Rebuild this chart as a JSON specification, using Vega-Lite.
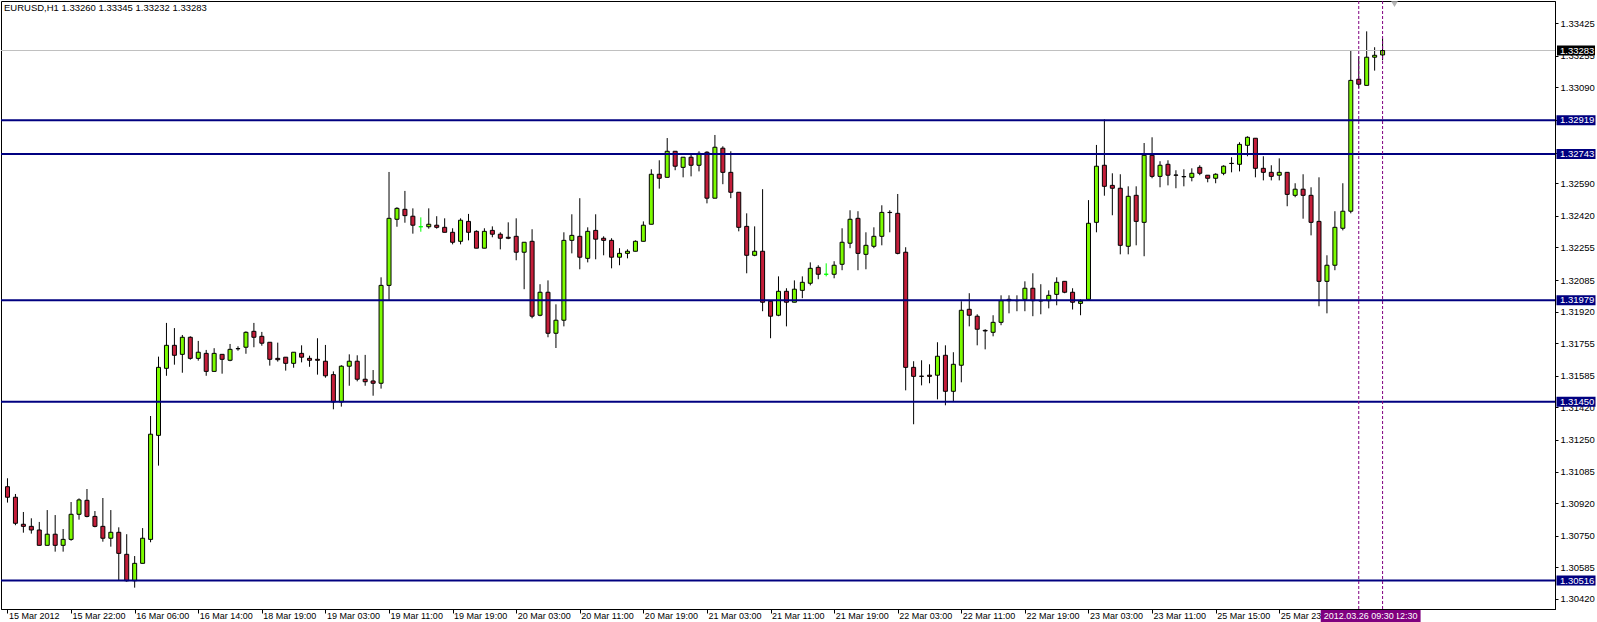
{
  "$schema": "https://vega.github.io/schema/vega-lite/v6.json",
  "width": 1554,
  "height": 608,
  "autosize": {"type": "none"},
  "padding": {"left": 1, "top": 1, "right": 42, "bottom": 13},
  "background": "white",
  "title": {"text": "EURUSD,H1  1.33260 1.33345 1.33232 1.33283", "anchor": "start", "frame": "group", "orient": "top", "offset": -12, "dx": 3, "font": "Liberation Sans", "fontSize": 9.5, "fontWeight": "normal", "color": "black"},
  "config": {
    "view": {"stroke": "black", "strokeWidth": 1},
    "axis": {"labelFont": "Liberation Sans", "labelColor": "black", "domainColor": "black", "tickColor": "black", "grid": false, "domainWidth": 1, "tickWidth": 1}
  },
  "resolve": {"axis": {"x": "independent", "y": "independent"}},
  "datasets": {
    "candles": [
      {"i":0,"o":1.31006,"h":1.3105,"l":1.30923,"c":1.30951},
      {"i":1,"o":1.30951,"h":1.30968,"l":1.30805,"c":1.30815},
      {"i":2,"o":1.3081,"h":1.30874,"l":1.30766,"c":1.30799},
      {"i":3,"o":1.30799,"h":1.30841,"l":1.30761,"c":1.3078},
      {"i":4,"o":1.3078,"h":1.30822,"l":1.307,"c":1.307},
      {"i":5,"o":1.307,"h":1.30884,"l":1.307,"c":1.30758},
      {"i":6,"o":1.30758,"h":1.30858,"l":1.30667,"c":1.307},
      {"i":7,"o":1.307,"h":1.30785,"l":1.30667,"c":1.30731},
      {"i":8,"o":1.30731,"h":1.30926,"l":1.30724,"c":1.30862},
      {"i":9,"o":1.30862,"h":1.30945,"l":1.30834,"c":1.30937},
      {"i":10,"o":1.30935,"h":1.30994,"l":1.30846,"c":1.30851},
      {"i":11,"o":1.30851,"h":1.30879,"l":1.30794,"c":1.30799},
      {"i":12,"o":1.30799,"h":1.30947,"l":1.30719,"c":1.30737},
      {"i":13,"o":1.30737,"h":1.30884,"l":1.30693,"c":1.30768},
      {"i":14,"o":1.30768,"h":1.30794,"l":1.30515,"c":1.30658},
      {"i":15,"o":1.30653,"h":1.30758,"l":1.3051,"c":1.30515},
      {"i":16,"o":1.30515,"h":1.30644,"l":1.30479,"c":1.30606},
      {"i":17,"o":1.30606,"h":1.3079,"l":1.30606,"c":1.30737},
      {"i":18,"o":1.30731,"h":1.31375,"l":1.30716,"c":1.3128},
      {"i":19,"o":1.31274,"h":1.31685,"l":1.31116,"c":1.31629},
      {"i":20,"o":1.31624,"h":1.31861,"l":1.31585,"c":1.31744},
      {"i":21,"o":1.31744,"h":1.31834,"l":1.31643,"c":1.31692},
      {"i":22,"o":1.31697,"h":1.31798,"l":1.31601,"c":1.31786},
      {"i":23,"o":1.31786,"h":1.31791,"l":1.31669,"c":1.31676},
      {"i":24,"o":1.31676,"h":1.31767,"l":1.31664,"c":1.31708},
      {"i":25,"o":1.31702,"h":1.3172,"l":1.31585,"c":1.31608},
      {"i":26,"o":1.31608,"h":1.31729,"l":1.31608,"c":1.31702},
      {"i":27,"o":1.31697,"h":1.31697,"l":1.31596,"c":1.31671},
      {"i":28,"o":1.31666,"h":1.31751,"l":1.31661,"c":1.31723},
      {"i":29,"o":1.31726,"h":1.31739,"l":1.31716,"c":1.31727},
      {"i":30,"o":1.31734,"h":1.31817,"l":1.317,"c":1.31812},
      {"i":31,"o":1.31817,"h":1.31861,"l":1.31734,"c":1.31786},
      {"i":32,"o":1.31791,"h":1.31814,"l":1.31742,"c":1.31755},
      {"i":33,"o":1.3176,"h":1.3176,"l":1.31638,"c":1.31671},
      {"i":34,"o":1.31676,"h":1.31758,"l":1.31659,"c":1.31669},
      {"i":35,"o":1.31682,"h":1.31682,"l":1.31612,"c":1.3165},
      {"i":36,"o":1.3165,"h":1.31708,"l":1.31627,"c":1.31708},
      {"i":37,"o":1.31702,"h":1.31744,"l":1.31655,"c":1.31682},
      {"i":38,"o":1.31676,"h":1.3169,"l":1.31632,"c":1.31666},
      {"i":39,"o":1.31671,"h":1.31781,"l":1.31591,"c":1.31666},
      {"i":40,"o":1.31661,"h":1.31746,"l":1.31575,"c":1.31585},
      {"i":41,"o":1.31591,"h":1.31608,"l":1.3141,"c":1.31448},
      {"i":42,"o":1.31448,"h":1.3164,"l":1.31424,"c":1.31635},
      {"i":43,"o":1.31635,"h":1.31697,"l":1.31533,"c":1.31661},
      {"i":44,"o":1.31661,"h":1.31692,"l":1.31556,"c":1.31567},
      {"i":45,"o":1.31567,"h":1.31694,"l":1.31533,"c":1.31554},
      {"i":46,"o":1.31558,"h":1.31615,"l":1.31481,"c":1.31546},
      {"i":47,"o":1.31546,"h":1.32099,"l":1.31518,"c":1.32057},
      {"i":48,"o":1.32057,"h":1.32649,"l":1.31981,"c":1.32407},
      {"i":49,"o":1.32402,"h":1.32465,"l":1.32363,"c":1.32459},
      {"i":50,"o":1.32454,"h":1.3255,"l":1.32384,"c":1.32421},
      {"i":51,"o":1.32418,"h":1.32459,"l":1.32327,"c":1.32371},
      {"i":52,"o":1.32363,"h":1.32412,"l":1.32337,"c":1.32363},
      {"i":53,"o":1.32363,"h":1.32459,"l":1.32353,"c":1.32376},
      {"i":54,"o":1.32371,"h":1.32418,"l":1.32353,"c":1.3236},
      {"i":55,"o":1.3236,"h":1.32407,"l":1.32334,"c":1.32334},
      {"i":56,"o":1.32334,"h":1.32355,"l":1.32271,"c":1.32282},
      {"i":57,"o":1.32287,"h":1.32407,"l":1.32271,"c":1.32397},
      {"i":58,"o":1.32391,"h":1.3243,"l":1.32292,"c":1.32334},
      {"i":59,"o":1.32339,"h":1.32344,"l":1.32251,"c":1.32251},
      {"i":60,"o":1.32251,"h":1.32355,"l":1.32251,"c":1.32339},
      {"i":61,"o":1.32344,"h":1.32365,"l":1.32308,"c":1.32324},
      {"i":62,"o":1.32324,"h":1.32334,"l":1.32245,"c":1.32303},
      {"i":63,"o":1.32308,"h":1.32386,"l":1.32298,"c":1.32303},
      {"i":64,"o":1.32313,"h":1.32407,"l":1.32188,"c":1.3223},
      {"i":65,"o":1.3223,"h":1.32282,"l":1.32037,"c":1.32282},
      {"i":66,"o":1.32287,"h":1.3235,"l":1.31885,"c":1.31896},
      {"i":67,"o":1.31901,"h":1.32063,"l":1.31896,"c":1.32021},
      {"i":68,"o":1.32021,"h":1.32083,"l":1.31786,"c":1.31807},
      {"i":69,"o":1.31807,"h":1.31958,"l":1.3173,"c":1.31875},
      {"i":70,"o":1.31875,"h":1.32334,"l":1.31843,"c":1.32292},
      {"i":71,"o":1.32292,"h":1.32428,"l":1.32224,"c":1.32318},
      {"i":72,"o":1.32313,"h":1.32512,"l":1.32141,"c":1.32204},
      {"i":73,"o":1.32198,"h":1.3236,"l":1.32177,"c":1.32339},
      {"i":74,"o":1.32344,"h":1.32428,"l":1.32193,"c":1.32298},
      {"i":75,"o":1.32303,"h":1.32313,"l":1.32214,"c":1.32292},
      {"i":76,"o":1.32292,"h":1.32303,"l":1.32146,"c":1.32204},
      {"i":77,"o":1.32204,"h":1.32251,"l":1.32162,"c":1.32224},
      {"i":78,"o":1.32224,"h":1.32245,"l":1.32198,"c":1.32235},
      {"i":79,"o":1.32235,"h":1.32292,"l":1.32235,"c":1.32287},
      {"i":80,"o":1.32287,"h":1.32391,"l":1.32287,"c":1.32371},
      {"i":81,"o":1.32376,"h":1.32663,"l":1.32376,"c":1.32637},
      {"i":82,"o":1.32637,"h":1.3271,"l":1.32562,"c":1.32616},
      {"i":83,"o":1.32621,"h":1.32826,"l":1.32621,"c":1.32757},
      {"i":84,"o":1.32757,"h":1.32757,"l":1.32658,"c":1.32679},
      {"i":85,"o":1.32673,"h":1.32726,"l":1.32621,"c":1.32726},
      {"i":86,"o":1.32726,"h":1.32746,"l":1.32626,"c":1.32684},
      {"i":87,"o":1.32684,"h":1.32757,"l":1.32652,"c":1.32746},
      {"i":88,"o":1.32752,"h":1.32757,"l":1.32485,"c":1.32512},
      {"i":89,"o":1.32512,"h":1.32842,"l":1.32512,"c":1.32778},
      {"i":90,"o":1.32773,"h":1.32783,"l":1.32585,"c":1.32647},
      {"i":91,"o":1.32647,"h":1.32757,"l":1.32512,"c":1.32543},
      {"i":92,"o":1.32543,"h":1.32543,"l":1.32339,"c":1.3236},
      {"i":93,"o":1.32365,"h":1.32433,"l":1.3212,"c":1.32214},
      {"i":94,"o":1.32214,"h":1.32365,"l":1.32209,"c":1.32235},
      {"i":95,"o":1.32235,"h":1.32559,"l":1.31922,"c":1.31969},
      {"i":96,"o":1.31974,"h":1.31974,"l":1.31781,"c":1.31896},
      {"i":97,"o":1.31901,"h":1.32104,"l":1.31896,"c":1.32026},
      {"i":98,"o":1.32026,"h":1.32042,"l":1.31843,"c":1.31969},
      {"i":99,"o":1.31969,"h":1.32083,"l":1.31969,"c":1.32037},
      {"i":100,"o":1.32031,"h":1.32104,"l":1.3199,"c":1.32073},
      {"i":101,"o":1.32068,"h":1.32177,"l":1.32057,"c":1.32146},
      {"i":102,"o":1.32151,"h":1.32162,"l":1.32089,"c":1.32115},
      {"i":103,"o":1.32115,"h":1.32172,"l":1.32104,"c":1.32115},
      {"i":104,"o":1.32115,"h":1.32183,"l":1.32094,"c":1.32162},
      {"i":105,"o":1.32167,"h":1.32355,"l":1.32136,"c":1.32282},
      {"i":106,"o":1.32277,"h":1.32449,"l":1.32251,"c":1.32402},
      {"i":107,"o":1.32407,"h":1.32444,"l":1.32136,"c":1.32224},
      {"i":108,"o":1.32219,"h":1.32334,"l":1.32141,"c":1.32266},
      {"i":109,"o":1.32261,"h":1.3236,"l":1.32251,"c":1.32313},
      {"i":110,"o":1.32313,"h":1.32475,"l":1.32266,"c":1.32438},
      {"i":111,"o":1.32438,"h":1.32449,"l":1.32334,"c":1.32437},
      {"i":112,"o":1.32433,"h":1.32534,"l":1.32219,"c":1.32224},
      {"i":113,"o":1.3223,"h":1.32256,"l":1.31509,"c":1.31629},
      {"i":114,"o":1.31629,"h":1.31661,"l":1.31332,"c":1.31582},
      {"i":115,"o":1.31583,"h":1.31666,"l":1.31535,"c":1.31582},
      {"i":116,"o":1.31588,"h":1.31645,"l":1.31546,"c":1.31582},
      {"i":117,"o":1.31588,"h":1.3176,"l":1.31462,"c":1.31687},
      {"i":118,"o":1.31692,"h":1.31744,"l":1.31431,"c":1.31504},
      {"i":119,"o":1.31504,"h":1.31708,"l":1.31452,"c":1.31645},
      {"i":120,"o":1.3164,"h":1.31974,"l":1.31551,"c":1.31927},
      {"i":121,"o":1.31932,"h":1.32016,"l":1.31843,"c":1.31901},
      {"i":122,"o":1.31896,"h":1.31906,"l":1.31744,"c":1.31828},
      {"i":123,"o":1.31822,"h":1.31828,"l":1.31723,"c":1.31819},
      {"i":124,"o":1.31812,"h":1.31901,"l":1.31791,"c":1.31864},
      {"i":125,"o":1.31864,"h":1.32005,"l":1.31849,"c":1.31977},
      {"i":126,"o":1.31984,"h":1.32005,"l":1.31911,"c":1.31977},
      {"i":127,"o":1.31978,"h":1.32005,"l":1.31922,"c":1.31977},
      {"i":128,"o":1.31984,"h":1.32078,"l":1.31922,"c":1.32042},
      {"i":129,"o":1.32042,"h":1.3212,"l":1.31896,"c":1.31977},
      {"i":130,"o":1.31977,"h":1.32063,"l":1.31906,"c":1.31976},
      {"i":131,"o":1.31977,"h":1.32031,"l":1.31937,"c":1.32005},
      {"i":132,"o":1.3201,"h":1.32099,"l":1.31953,"c":1.32073},
      {"i":133,"o":1.32078,"h":1.32078,"l":1.32016,"c":1.32021},
      {"i":134,"o":1.32021,"h":1.32042,"l":1.31931,"c":1.31969},
      {"i":135,"o":1.31963,"h":1.31984,"l":1.31901,"c":1.31974},
      {"i":136,"o":1.31984,"h":1.32502,"l":1.31984,"c":1.32381},
      {"i":137,"o":1.32386,"h":1.3279,"l":1.32334,"c":1.32679},
      {"i":138,"o":1.32684,"h":1.32924,"l":1.32525,"c":1.32574},
      {"i":139,"o":1.32579,"h":1.32642,"l":1.32423,"c":1.32564},
      {"i":140,"o":1.32564,"h":1.32637,"l":1.32219,"c":1.32266},
      {"i":141,"o":1.32261,"h":1.32574,"l":1.32219,"c":1.32522},
      {"i":142,"o":1.32527,"h":1.32574,"l":1.32266,"c":1.32391},
      {"i":143,"o":1.32386,"h":1.328,"l":1.32209,"c":1.32736},
      {"i":144,"o":1.32736,"h":1.3283,"l":1.32616,"c":1.32626},
      {"i":145,"o":1.32626,"h":1.32705,"l":1.32569,"c":1.32684},
      {"i":146,"o":1.32689,"h":1.3271,"l":1.32579,"c":1.32632},
      {"i":147,"o":1.32633,"h":1.32658,"l":1.32564,"c":1.32632},
      {"i":148,"o":1.32625,"h":1.32663,"l":1.32574,"c":1.32624},
      {"i":149,"o":1.32621,"h":1.32668,"l":1.326,"c":1.32642},
      {"i":150,"o":1.32673,"h":1.32684,"l":1.32632,"c":1.32642},
      {"i":151,"o":1.32632,"h":1.32632,"l":1.32595,"c":1.32616},
      {"i":152,"o":1.32616,"h":1.32642,"l":1.3259,"c":1.32637},
      {"i":153,"o":1.32642,"h":1.32684,"l":1.32632,"c":1.32679},
      {"i":154,"o":1.32694,"h":1.32726,"l":1.32647,"c":1.32693},
      {"i":155,"o":1.32689,"h":1.32804,"l":1.32652,"c":1.32793},
      {"i":156,"o":1.32788,"h":1.32835,"l":1.32731,"c":1.3283},
      {"i":157,"o":1.32825,"h":1.32825,"l":1.32621,"c":1.32668},
      {"i":158,"o":1.32668,"h":1.32731,"l":1.32605,"c":1.32647},
      {"i":159,"o":1.32647,"h":1.32684,"l":1.32605,"c":1.32626},
      {"i":160,"o":1.32632,"h":1.3272,"l":1.32605,"c":1.32647},
      {"i":161,"o":1.32647,"h":1.32647,"l":1.3247,"c":1.32532},
      {"i":162,"o":1.32527,"h":1.3259,"l":1.32517,"c":1.32559},
      {"i":163,"o":1.32559,"h":1.32637,"l":1.32405,"c":1.32527},
      {"i":164,"o":1.32527,"h":1.32569,"l":1.32318,"c":1.32386},
      {"i":165,"o":1.32391,"h":1.32621,"l":1.31948,"c":1.32078},
      {"i":166,"o":1.32078,"h":1.32214,"l":1.31911,"c":1.32162},
      {"i":167,"o":1.32162,"h":1.32444,"l":1.32136,"c":1.3236},
      {"i":168,"o":1.32355,"h":1.3259,"l":1.32344,"c":1.32444},
      {"i":169,"o":1.32444,"h":1.33284,"l":1.32433,"c":1.33127},
      {"i":170,"o":1.33133,"h":1.33253,"l":1.33086,"c":1.33107},
      {"i":171,"o":1.33101,"h":1.33383,"l":1.33101,"c":1.33248},
      {"i":172,"o":1.33248,"h":1.333,"l":1.33178,"c":1.33258},
      {"i":173,"o":1.3326,"h":1.33345,"l":1.33232,"c":1.33283}
    ],
    "levels": [{"p":1.32919},{"p":1.32743},{"p":1.31979},{"p":1.3145},{"p":1.30516}],
    "bid": [{"p":1.33283}],
    "vlines": [{"i":170},{"i":173}]
  },
  "layer": [
    {
      "data": {"name": "candles"},
      "mark": {"type": "rule", "strokeWidth": 1},
      "encoding": {
        "x": {"field": "i", "type": "quantitative", "scale": {"domain": [-0.1875, 194.0625], "zero": false, "nice": false},
          "axis": {"orient": "bottom", "title": null, "values": [0,8,16,24,32,40,48,56,64,72,80,88,96,104,112,120,128,136,144,152,160],
            "labelExpr": "['15 Mar 2012','15 Mar 22:00','16 Mar 06:00','16 Mar 14:00','18 Mar 19:00','19 Mar 03:00','19 Mar 11:00','19 Mar 19:00','20 Mar 03:00','20 Mar 11:00','20 Mar 19:00','21 Mar 03:00','21 Mar 11:00','21 Mar 19:00','22 Mar 03:00','22 Mar 11:00','22 Mar 19:00','23 Mar 03:00','23 Mar 11:00','25 Mar 15:00','25 Mar 23:00'][round(datum.value/8)]",
            "tickSize": 4, "labelAlign": "left", "labelBaseline": "top", "labelPadding": -2, "labelOffset": 1, "labelFontSize": 9, "labelOverlap": false, "labelBound": false, "labelFlush": false}},
        "y": {"field": "l", "type": "quantitative", "scale": {"domain": [1.303676, 1.335414], "zero": false, "nice": false},
          "axis": {"orient": "right", "title": null, "values": [1.33425,1.33255,1.3309,1.3292,1.3275,1.3259,1.3242,1.32255,1.32085,1.3192,1.31755,1.31585,1.3142,1.3125,1.31085,1.3092,1.3075,1.30585,1.3042],
            "format": ".5f", "tickSize": 3, "labelPadding": 2, "labelFontSize": 9.5, "labelAlign": "left", "labelBaseline": "middle", "labelOverlap": false, "labelBound": false, "labelFlush": false}},
        "y2": {"field": "h"},
        "color": {"condition": {"test": "datum.o == datum.c", "value": "#00FF00"}, "value": "black"}
      }
    },
    {
      "data": {"name": "bid"},
      "mark": {"type": "rule", "color": "#C0C0C0", "strokeWidth": 1},
      "encoding": {
        "y": {"field": "p", "type": "quantitative", "scale": {"domain": [1.303676, 1.335414], "zero": false, "nice": false}, "axis": null}
      }
    },
    {
      "data": {"name": "candles"},
      "mark": {"type": "bar", "size": 4, "strokeWidth": 1},
      "encoding": {
        "x": {"field": "i", "type": "quantitative", "scale": {"domain": [-0.1875, 194.0625], "zero": false, "nice": false}, "axis": null},
        "y": {"field": "o", "type": "quantitative", "scale": {"domain": [1.303676, 1.335414], "zero": false, "nice": false}, "axis": null},
        "y2": {"field": "c"},
        "fill": {"condition": {"test": "datum.c >= datum.o", "value": "#7CFC00"}, "value": "#C41E3A"},
        "stroke": {"condition": {"test": "datum.o == datum.c", "value": "#00FF00"}, "value": "black"}
      }
    },
    {
      "data": {"name": "levels"},
      "mark": {"type": "rule", "color": "#000080", "strokeWidth": 2},
      "encoding": {
        "y": {"field": "p", "type": "quantitative", "scale": {"domain": [1.303676, 1.335414], "zero": false, "nice": false}, "axis": null}
      }
    },
    {
      "data": {"name": "vlines"},
      "mark": {"type": "rule", "color": "#800080", "strokeWidth": 1, "strokeDash": [3, 2]},
      "encoding": {
        "x": {"field": "i", "type": "quantitative", "scale": {"domain": [-0.1875, 194.0625], "zero": false, "nice": false}, "axis": null}
      }
    },
    {
      "data": {"values": [{"i": 174.5, "p": 1.33525}]},
      "mark": {"type": "point", "shape": "triangle-down", "filled": true, "color": "#B4B4B4", "size": 45, "opacity": 1},
      "encoding": {
        "x": {"field": "i", "type": "quantitative", "scale": {"domain": [-0.1875, 194.0625], "zero": false, "nice": false}, "axis": null},
        "y": {"field": "p", "type": "quantitative", "scale": {"domain": [1.303676, 1.335414], "zero": false, "nice": false}, "axis": null}
      }
    },
    {
      "data": {"name": "levels"},
      "mark": {"type": "tick", "orient": "horizontal", "thickness": 10, "size": 39, "color": "#000080", "opacity": 1},
      "encoding": {
        "x": {"value": {"expr": "width+21"}},
        "y": {"field": "p", "type": "quantitative", "scale": {"domain": [1.303676, 1.335414], "zero": false, "nice": false}, "axis": null}
      }
    },
    {
      "data": {"name": "levels"},
      "mark": {"type": "text", "align": "left", "baseline": "middle", "color": "white", "font": "Liberation Sans", "fontSize": 9.5},
      "encoding": {
        "x": {"value": {"expr": "width+5"}},
        "y": {"field": "p", "type": "quantitative", "scale": {"domain": [1.303676, 1.335414], "zero": false, "nice": false}, "axis": null},
        "text": {"field": "p", "type": "quantitative", "format": ".5f"}
      }
    },
    {
      "data": {"name": "bid"},
      "mark": {"type": "tick", "orient": "horizontal", "thickness": 10, "size": 38, "color": "black", "opacity": 1},
      "encoding": {
        "x": {"value": {"expr": "width+21"}},
        "y": {"field": "p", "type": "quantitative", "scale": {"domain": [1.303676, 1.335414], "zero": false, "nice": false}, "axis": null}
      }
    },
    {
      "data": {"name": "bid"},
      "mark": {"type": "text", "align": "left", "baseline": "middle", "color": "white", "font": "Liberation Sans", "fontSize": 9.5},
      "encoding": {
        "x": {"value": {"expr": "width+5"}},
        "y": {"field": "p", "type": "quantitative", "scale": {"domain": [1.303676, 1.335414], "zero": false, "nice": false}, "axis": null},
        "text": {"field": "p", "type": "quantitative", "format": ".5f"}
      }
    },
    {
      "data": {"values": [{"i": 173, "t": "2012.03.26 12:30"}]},
      "mark": {"type": "tick", "orient": "horizontal", "thickness": 12, "size": 76, "color": "#800080", "opacity": 1},
      "encoding": {"x": {"field": "i", "type": "quantitative", "scale": {"domain": [-0.1875, 194.0625], "zero": false, "nice": false}, "axis": null}, "y": {"value": {"expr": "height+7"}}}
    },
    {
      "data": {"values": [{"i": 173, "t": "2012.03.26 12:30"}]},
      "mark": {"type": "text", "align": "center", "baseline": "middle", "color": "white", "font": "Liberation Sans", "fontSize": 9},
      "encoding": {"x": {"field": "i", "type": "quantitative", "scale": {"domain": [-0.1875, 194.0625], "zero": false, "nice": false}, "axis": null}, "y": {"value": {"expr": "height+7"}}, "text": {"field": "t"}}
    },
    {
      "data": {"values": [{"i": 170, "t": "2012.03.26 09:30"}]},
      "mark": {"type": "tick", "orient": "horizontal", "thickness": 12, "size": 76, "color": "#800080", "opacity": 1},
      "encoding": {"x": {"field": "i", "type": "quantitative", "scale": {"domain": [-0.1875, 194.0625], "zero": false, "nice": false}, "axis": null}, "y": {"value": {"expr": "height+7"}}}
    },
    {
      "data": {"values": [{"i": 170, "t": "2012.03.26 09:30"}]},
      "mark": {"type": "text", "align": "center", "baseline": "middle", "color": "white", "font": "Liberation Sans", "fontSize": 9},
      "encoding": {"x": {"field": "i", "type": "quantitative", "scale": {"domain": [-0.1875, 194.0625], "zero": false, "nice": false}, "axis": null}, "y": {"value": {"expr": "height+7"}}, "text": {"field": "t"}}
    }
  ]
}
